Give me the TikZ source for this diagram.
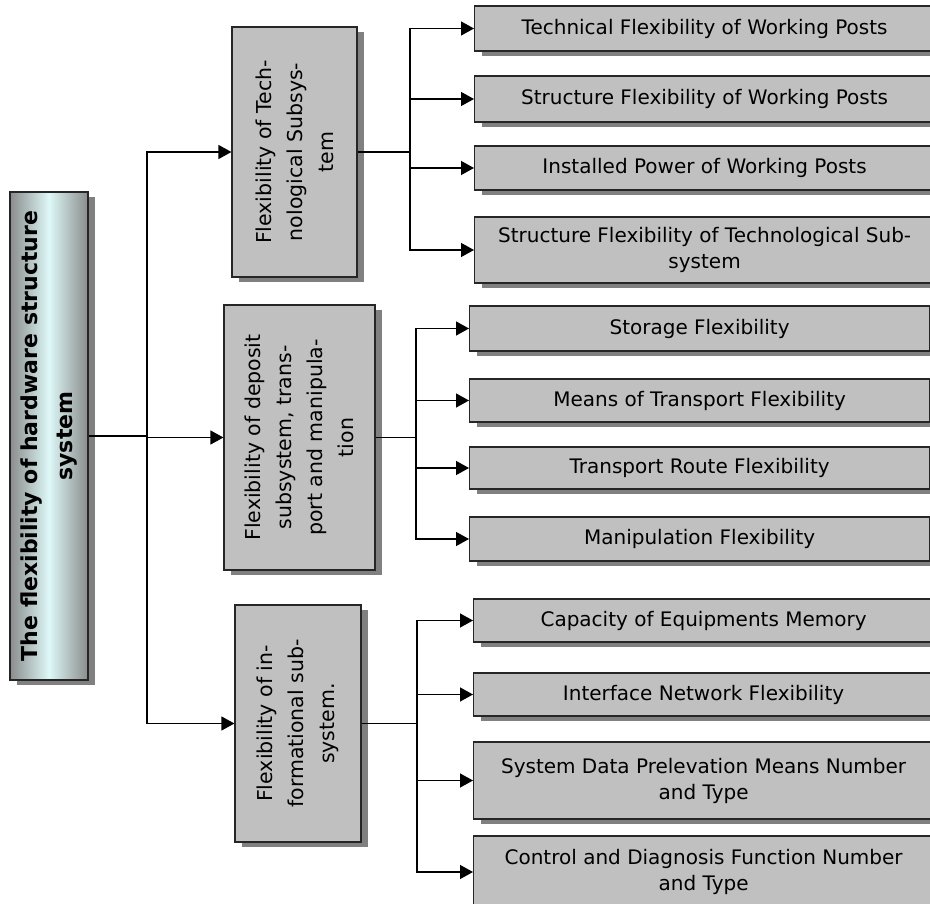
\documentclass[tikz,border=0pt]{standalone}
\usepackage{fontspec}
\setmainfont{DejaVu Sans}
\usetikzlibrary{arrows.meta}
\usetikzlibrary{positioning}
\usetikzlibrary{shadows}
\definecolor{boxgray}{RGB}{192,192,192}
\definecolor{shadegray}{RGB}{128,128,128}
\definecolor{edgegray}{RGB}{138,140,140}
\definecolor{paleaqua}{RGB}{222,248,248}
\tikzset{>={Triangle[length=13pt,width=14pt]}}
\tikzstyle{box} = [rectangle, draw=black!85, line width=1.2pt, fill=boxgray, inner sep=2pt, align=center, drop shadow={shadow xshift=7pt, shadow yshift=-5pt, fill=shadegray, opacity=1}]
\tikzstyle{leaf} = [box, anchor=west, minimum width=460pt, font=\fontsize{20}{26}\selectfont]
\tikzstyle{sub} = [box, rotate=90, font=\fontsize{20.5}{31}\selectfont]
\tikzstyle{link} = [line width=1.4pt, draw=black]

\begin{document}
\begin{tikzpicture}[x=1pt, y=-1pt]
\useasboundingbox (0,0) rectangle (930,904);
%\node [font=\small] at (465,0) {hardware flexibility};
\node [box, rotate=90, minimum width=488pt, minimum height=78pt, left color=edgegray, right color=edgegray, middle color=paleaqua, font=\fontsize{22}{35}\selectfont\bfseries] (root) at (49, 436) {The flexibility of hardware structure\\system};
\node [sub, minimum width=250pt, minimum height=125pt] (tech) at (294.5, 152) {Flexibility of Tech-\\nological Subsys-\\tem};
\node [sub, minimum width=265pt, minimum height=151pt] (dep) at (299.5, 437.5) {Flexibility of deposit\\subsystem, trans-\\port and manipula-\\tion};
\node [sub, minimum width=237pt, minimum height=126pt] (info) at (298, 723.5) {Flexibility of in-\\formational sub-\\system.};
% technological subsystem
\node [leaf, minimum height=45pt] (t1) at (474, 28.5) {Technical Flexibility of Working Posts};
\node [leaf, minimum height=46pt] (t2) at (474, 99) {Structure Flexibility of Working Posts};
\node [leaf, minimum height=44pt] (t3) at (474, 168) {Installed Power of Working Posts};
\node [leaf, minimum height=66pt] (t4) at (474, 250) {Structure Flexibility of Technological Sub-\\system};
% deposit, transport, manipulation
\node [leaf, minimum height=45pt] (d1) at (469, 328.5) {Storage Flexibility};
\node [leaf, minimum height=43pt] (d2) at (469, 400.5) {Means of Transport Flexibility};
\node [leaf, minimum height=42pt] (d3) at (469, 468) {Transport Route Flexibility};
\node [leaf, minimum height=44pt] (d4) at (469, 539) {Manipulation Flexibility};
% informational subsystem
\node [leaf, minimum height=43pt] (i1) at (473, 620.5) {Capacity of Equipments Memory};
\node [leaf, minimum height=43pt] (i2) at (473, 694.5) {Interface Network Flexibility};
\node [leaf, minimum height=77pt] (i3) at (473, 780.5) {System Data Prelevation Means Number\\and Type};
\node [leaf, minimum height=72pt] (i4) at (473, 872) {Control and Diagnosis Function Number\\and Type};
\coordinate (trunk) at (147, 436);
\coordinate (bt) at (410, 152);
\coordinate (bd) at (416, 437.5);
\coordinate (bi) at (417, 723.5);
\draw [link] (root.south) -- (trunk);
\draw [link, ->] (trunk) |- (tech.north);
\draw [link, ->] (trunk) |- (dep.north);
\draw [link, ->] (trunk) |- (info.north);
\draw [link] (tech.south) -- (bt);
\draw [link] (dep.south) -- (bd);
\draw [link] (info.south) -- (bi);
\foreach \n in {t1, t2, t3, t4}
  \draw [link, ->] (bt) |- (\n.west);
\foreach \n in {d1, d2, d3, d4}
  \draw [link, ->] (bd) |- (\n.west);
\foreach \n in {i1, i2, i3, i4}
  \draw [link, ->] (bi) |- (\n.west);
\end{tikzpicture}
\end{document}
